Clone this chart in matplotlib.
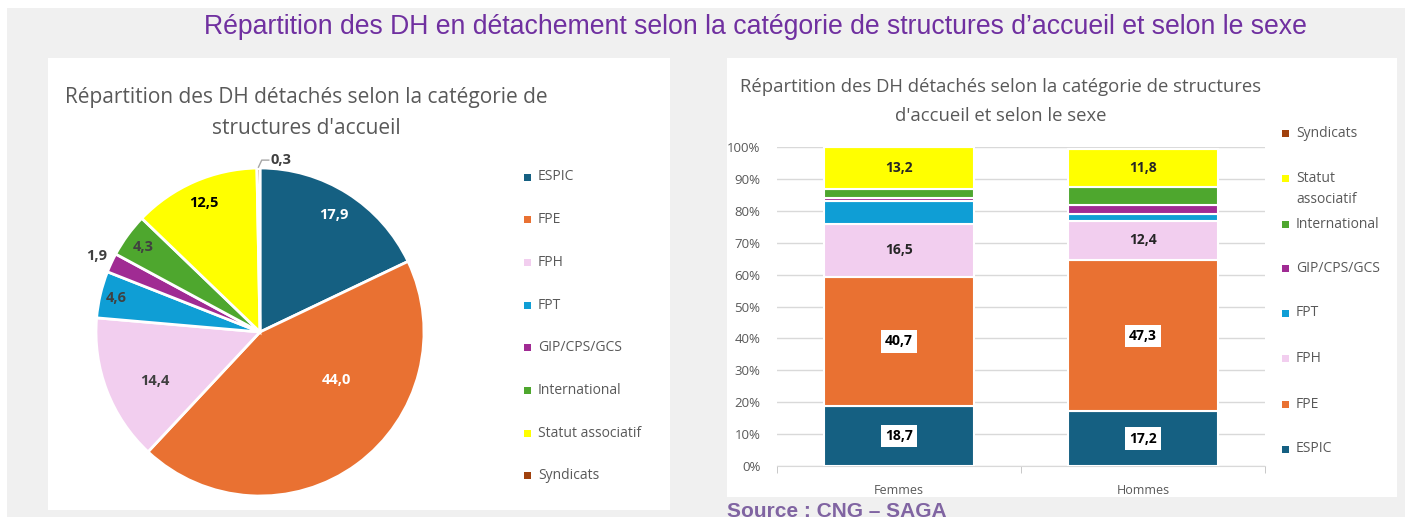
import matplotlib.pyplot as plt
from matplotlib.patches import Rectangle
import numpy as np

W, H = 1405, 517

categories = ['ESPIC', 'FPE', 'FPH', 'FPT', 'GIP/CPS/GCS', 'International',
              'Statut associatif', 'Syndicats']
colors = ['#156082', '#E97132', '#F2CEEF', '#0F9ED5', '#A02B93', '#4EA72E',
          '#FFFF00', '#A0410D']

# pie: overall share (%)
pie_values = [17.9, 44.0, 14.4, 4.6, 1.9, 4.3, 12.5, 0.3]

# stacked bars: share by sex (%)
sexes = ['Femmes', 'Hommes']
femmes = [18.7, 40.7, 16.5, 7.1, 1.1, 2.7, 13.2, 0.0]
hommes = [17.2, 47.3, 12.4, 2.0, 2.8, 5.9, 11.8, 0.0]
labelled = ['ESPIC', 'FPE', 'FPH', 'Statut associatif']
boxed = ['ESPIC', 'FPE']

grey = '#595959'
chart_font = ['Open Sans', 'DejaVu Sans']


def fx(x):
    return x / W


def fy(y):
    return 1 - y / H


def fmt(v):
    return f'{v:.1f}'.replace('.', ',')


def bg_rect(x0, y0, x1, y1, color):
    fig.patches.append(Rectangle((fx(x0), fy(y1)), (x1 - x0) / W, (y1 - y0) / H,
                                 transform=fig.transFigure, facecolor=color,
                                 edgecolor='none', zorder=-2))


fig = plt.figure(figsize=(W / 100, H / 100), dpi=100)
fig.patch.set_facecolor('white')
bg_rect(7, 8, W, H, '#f0f0f0')
bg_rect(48, 58, 670, 510, 'white')
bg_rect(727, 58, 1397, 497, 'white')

fig.text(fx(755), fy(27), "Répartition des DH en détachement selon la catégorie de structures d’accueil et selon le sexe",
         ha='center', va='center', color='#7030A0', fontsize=19.2,
         family=['Liberation Sans', 'DejaVu Sans'])
fig.text(fx(727), fy(502), 'Source : CNG – SAGA', ha='left', va='top',
         color='#8064A2', fontsize=15, fontweight='bold',
         family=['Liberation Sans', 'DejaVu Sans'])

# ---------------- pie ----------------
fig.text(fx(306), fy(98), 'Répartition des DH détachés selon la catégorie de',
         ha='center', va='center', color=grey, fontsize=15, family=chart_font)
fig.text(fx(306), fy(128), "structures d'accueil",
         ha='center', va='center', color=grey, fontsize=15, family=chart_font)

R, cx, cy, lim = 164, 260, 332, 1.05
ax1 = fig.add_axes([fx(cx - R * lim), fy(cy + R * lim), 2 * R * lim / W, 2 * R * lim / H])
wedges, _ = ax1.pie(pie_values, colors=colors, startangle=90, counterclock=False,
                    wedgeprops=dict(edgecolor='white', linewidth=2))
ax1.set_xlim(-lim, lim)
ax1.set_ylim(-lim, lim)

lab_r = [0.84, 0.55, 0.71, 0.90, 1.10, 0.88, 0.86, 1.05]
lab_shift = [0, 22, 4, 0, 0, 0, 0, -4]
lab_col = ['white', 'white', '#404040', '#404040', '#404040', '#404040', 'black', '#404040']
for w, v, r, s, c in zip(wedges, pie_values, lab_r, lab_shift, lab_col):
    a = np.deg2rad((w.theta1 + w.theta2) / 2 + s)
    ha = 'center'
    x, y = r * np.cos(a), r * np.sin(a)
    if v < 1:
        m = np.deg2rad((w.theta1 + w.theta2) / 2)
        ax1.plot([np.cos(m), np.cos(m) + 0.02, x - 0.01], [np.sin(m) + 0.005, y, y],
                 color='#a6a6a6', lw=1, clip_on=False)
        ha = 'left'
    ax1.text(x, y, fmt(v), ha=ha, va='center', color=c, fontsize=10.5,
             fontweight='bold', family=chart_font)

for i, (cat, col) in enumerate(zip(categories, colors)):
    yy = 177 + i * 42.7
    fig.patches.append(Rectangle((fx(524), fy(yy + 3.5)), 7 / W, 7 / H,
                                 transform=fig.transFigure, facecolor=col,
                                 edgecolor='none'))
    fig.text(fx(538), fy(yy), cat, ha='left', va='center', color=grey,
             fontsize=10, family=chart_font)

# ---------------- stacked bars ----------------
fig.text(fx(1001), fy(87), 'Répartition des DH détachés selon la catégorie de structures',
         ha='center', va='center', color=grey, fontsize=13.3, family=chart_font)
fig.text(fx(1001), fy(116), "d'accueil et selon le sexe",
         ha='center', va='center', color=grey, fontsize=13.3, family=chart_font)

ax2 = fig.add_axes([fx(777), fy(466), (1265 - 777) / W, (466 - 147) / H])
xpos = np.arange(len(sexes))
bottoms = np.zeros(len(sexes))
for i, (cat, col) in enumerate(zip(categories, colors)):
    vals = np.array([femmes[i], hommes[i]])
    ax2.bar(xpos, vals, bottom=bottoms, width=0.615, color=col,
            edgecolor='white', linewidth=1.5, zorder=3)
    if cat in labelled:
        for x, v, b in zip(xpos, vals, bottoms):
            bbox = dict(facecolor='white', edgecolor='none', pad=3) if cat in boxed else None
            ax2.text(x, b + v / 2, fmt(v), ha='center', va='center',
                     fontsize=10, fontweight='bold', color='black' if bbox else '#262626',
                     bbox=bbox, family=chart_font, zorder=5)
    bottoms += vals

ax2.set_xlim(-0.5, 1.5)
ax2.set_ylim(0, 100)
ax2.set_yticks(np.arange(0, 101, 10))
ax2.set_yticklabels([f'{v}%' for v in range(0, 101, 10)])
ax2.yaxis.grid(True, color='#d9d9d9', lw=1, zorder=0)
ax2.set_axisbelow(True)
ax2.set_xticks(xpos)
ax2.set_xticklabels(sexes)
ax2.set_xticks([-0.5, 0.5, 1.5], minor=True)
ax2.tick_params(axis='x', which='major', length=0, pad=13, labelsize=9, labelcolor=grey)
ax2.tick_params(axis='x', which='minor', length=5, color='#bfbfbf')
ax2.tick_params(axis='y', length=0, pad=12, labelsize=9.5, labelcolor=grey)
for lab in ax2.get_xticklabels() + ax2.get_yticklabels():
    lab.set_family(chart_font)
for sp in ['top', 'right', 'left']:
    ax2.spines[sp].set_visible(False)
ax2.spines['bottom'].set_color('#d9d9d9')
ax2.patch.set_alpha(0)

leg_y = [449, 404, 358, 313, 268, 224, 189, 133]
for cat, col, yy in zip(categories, colors, leg_y):
    my = yy if cat != 'Statut associatif' else 178
    fig.patches.append(Rectangle((fx(1282), fy(my + 3.5)), 7 / W, 7 / H,
                                 transform=fig.transFigure, facecolor=col,
                                 edgecolor='none'))
    text = 'Statut\nassociatif' if cat == 'Statut associatif' else cat
    fig.text(fx(1296), fy(yy), text, ha='left', va='center', color=grey,
             fontsize=10, family=chart_font, linespacing=1.5)

fig.savefig('out.png', dpi=100, facecolor=fig.get_facecolor())
